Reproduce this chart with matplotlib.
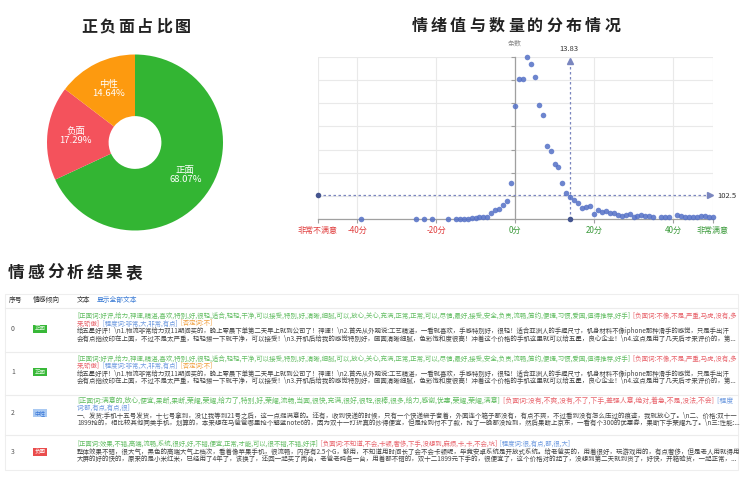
import matplotlib
matplotlib.use('Agg')
import matplotlib.pyplot as plt
import numpy as np
from matplotlib.patches import Rectangle

plt.rcParams['font.family'] = ['Noto Sans CJK SC', 'DejaVu Sans']

# Pie data
pie_labels = ['正面', '负面', '中性']
pie_values = [68.07, 17.29, 14.64]
pie_colors = ['#33b533', '#f4525c', '#fd9a0f']

# Scatter data: emotion score vs count
score = [-39, -25, -23, -21, -17, -15, -14, -13, -12, -11, -10, -9, -8, -7,
         -6, -5, -4, -3, -2, -1, 0, 1, 2, 3, 4, 5, 6, 7, 8, 9, 10, 11, 12,
         13, 14, 15, 16, 17, 18, 19, 20, 21, 22, 23, 24, 25, 26, 27, 28, 29,
         30, 31, 32, 33, 34, 35, 37, 38, 39, 41, 42, 43, 44, 45, 46, 47, 48,
         49, 50]
count = [1, 1, 1, 1, 1, 2, 2, 2, 3, 5, 6, 8, 10, 11, 25, 38, 45, 60, 78,
         155, 488, 605, 603, 700, 667, 611, 491, 447, 316, 294, 237, 224, 155,
         112, 97, 83, 69, 50, 52, 59, 23, 40, 32, 35, 28, 25, 20, 15, 18, 24,
         12, 15, 18, 15, 14, 10, 10, 10, 9, 18, 14, 10, 10, 10, 10, 14, 15,
         12, 9]
mean_score = 13.83
mean_count = 102.5
x_ticks = [-50, -40, -20, 0, 20, 40, 50]
x_tick_labels = ['非常不满意', '-40分', '-20分', '0分', '20分', '40分', '非常满意']

# Table data
GREEN, RED, BLUE, ORANGE, BLACK = '#62bd62', '#e8636b', '#6f9be0', '#f0a040', '#444444'
row_ids = ['0', '1', '2', '3']
row_sentiment = ['正面', '正面', '中性', '负面']
pos0 = ('[正面词:好评,给力,神速,精湛,喜欢,特别,好,很轻,适合,轻轻,干净,可以接受,特别,好,清晰,细腻,'
        '可以,放心,关心,充满,正常,正常,可以,尽情,最好,接受,安全,负责,流畅,简约,便捷,习惯,爱国,值得推荐,好手]')
text0 = [
    ([(pos0, GREEN), ('  [负面词:不像,不是,严重,马虎,没有,多', RED)], True),
    ([('来,骄傲]', RED), ('  [程度词:非常,大,非常,有点]', BLUE), ('  [否定词:不]', ORANGE)], False),
    ([('给五星好评！\\n1.物流非常给力双11期间买的，晚上零晨下单第二天早上就到公司了！神速！\\n2.首先从外观说:工艺精湛，'
       '一看就喜欢，手感特别好，很轻！适合亚洲人的手握尺寸，机身材料不像iphone那种滑手的感觉，只是手出汗', BLACK)], True),
    ([('会有点指纹印在上面，不过不是太严重，轻轻擦一下就干净，可以接受！\\n3.开机后给我的感觉特别好，画面清晰细腻，'
       '色彩饱和度很高！冲着这个价格的手机这里就可以给五星，良心企业！\\n4.这点是用了几天后才来评价的，第...', BLACK)], True),
]
text2 = [
    ([('[正面词:满意的,放心,便宜,果断,果断,荣耀,荣耀,给力了,特别,好,荣耀,流畅,当面,很快,充满,很好,很轻,很棒,'
       '很多,给力,感谢,优惠,荣耀,荣耀,满意]', GREEN),
      ('  [负面词:没有,不爽,没有,不了,下手,差强人意,绝对,着急,不是,没法,不会]', RED), ('  [程度', BLUE)], True),
    ([('词:都,有点,有点,很]', BLUE)], False),
    ([('一、发货:手机十五号发货，十七号拿到，没让我等到21号之后，这一点挺满意的。还有，收到快递的时候，只有一个快递袋子套着，'
       '外面连个箱子都没有，有点不爽，不过看到没有怎么压过的痕迹，我就放心了。\\n二、价格:双十一', BLACK)], True),
    ([('1899抢的，相比较其他同类手机，划算的，本来想在马爸爸哪里抢个魅蓝note6的，因为双十一打折真的炒得便宜，'
       '但是抢到付不了款，抢了一晚都没抢到，然后果断上京东，一看有个300的优惠券，果断下手荣耀九了。\\n三:性能:...', BLACK)], True),
]
text3 = [
    ([('[正面词:效果,不错,高端,流畅,系统,很好,好,不错,便宜,正常,才能,可以,很不错,不错,好评]', GREEN),
      ('  [负面词:不知道,不会,卡顿,奢侈,下手,没想到,麻烦,卡,卡,不会,坑]', RED),
      ('  [程度词:很,有点,都,很,大]', BLUE)], False),
    ([('整体效果不错，很大气，黑色的高端大气上档次，看着像苹果手机，很流畅，内存有2.5个G，够用，不知道用时间长了会不会卡顿呢，'
       '毕竟安卓系统是开放式系统。给老爸买的，用着很好，玩游戏用的，有点奢侈，但是老人用就得用', BLACK)], True),
    ([('大屏的好的快的，原来的是小米红米，已经用了4年了，该换了，还回一起买了两台，老爸老妈各一台，用着都不错的，'
       '双十二1899元下手的，很便宜了，这个价格对的起了，没想到第二天就到货了，好快，开箱验货，一起正常，...', BLACK)], True),
]
row_texts = [text0, text0, text2, text3]

W, H = 750, 484
fig = plt.figure(figsize=(W / 100, H / 100), dpi=100)
renderer = fig.canvas.get_renderer()


def fx(px):
    return px / W


def fy(py):
    return 1 - py / H


def spaced_title(cx, cy, s, pitch, fs=11.5):
    n = len(s)
    for i, ch in enumerate(s):
        fig.text(fx(cx + (i - (n - 1) / 2) * pitch), fy(cy), ch, fontsize=fs,
                 fontweight='bold', color='#222222', ha='center', va='center')


# ---- Donut chart ----
spaced_title(136, 27, '正负面占比图', 18.7)
r_px = 88
ax1 = fig.add_axes([fx(135 - r_px), fy(142.5 + r_px), 2 * r_px / W, 2 * r_px / H])
ax1.pie(pie_values, colors=pie_colors, startangle=90, counterclock=False,
        radius=1, wedgeprops=dict(width=0.7, linewidth=0))
ax1.set_xlim(-1, 1)
ax1.set_ylim(-1, 1)
cum = 0
for lab, val in zip(pie_labels, pie_values):
    mid = np.deg2rad(90 - (cum + val / 2) * 3.6)
    cum += val
    ax1.text(0.68 * np.cos(mid), 0.68 * np.sin(mid), f'{lab}\n{val:.2f}%',
             color='white', fontsize=6.8, ha='center', va='center', linespacing=1.0)

# ---- Scatter chart ----
spaced_title(516, 26, '情绪值与数量的分布情况', 19.3)
ax2 = fig.add_axes([fx(317.5), fy(219.3), (712.5 - 317.5) / W, (219.3 - 56.7) / H])
ax2.set_xlim(-50, 50)
ax2.set_ylim(0, 700)
ax2.set_xticks(x_ticks)
ax2.set_xticklabels(x_tick_labels)
ax2.set_yticks(range(0, 701, 100))
ax2.set_yticklabels([])
ax2.grid(True, color='#e9e9e9', lw=0.8)
ax2.set_axisbelow(True)
for side in ['top', 'right']:
    ax2.spines[side].set_visible(False)
ax2.spines['left'].set_position(('data', 0))
for side in ['left', 'bottom']:
    ax2.spines[side].set_color('#a0a0a0')
    ax2.spines[side].set_linewidth(0.9)
ax2.tick_params(axis='both', length=3, width=0.8, color='#a0a0a0', direction='out')
ax2.tick_params(axis='x', labelsize=5.8, pad=2)
for lbl, v in zip(ax2.get_xticklabels(), x_ticks):
    lbl.set_color('#e03c3c' if v < 0 else '#3a9a3a')

ax2.scatter(score, count, s=16, color='#5470c6', alpha=0.85, linewidths=0,
            zorder=4, clip_on=False)

line_col = '#7a86bf'
ax2.plot([-50, 49], [mean_count, mean_count], ls=(0, (2, 2)), lw=0.9,
         color=line_col, clip_on=False, zorder=3)
ax2.plot([49.3], [mean_count], marker='>', ms=5, color=line_col, clip_on=False, zorder=3)
ax2.plot([mean_score, mean_score], [0, 680], ls=(0, (2, 2)), lw=0.9,
         color=line_col, clip_on=False, zorder=3)
ax2.plot([mean_score], [683], marker='^', ms=5, color=line_col, clip_on=False, zorder=3)
ax2.scatter([-50, mean_score], [mean_count, 0], s=16, color='#45558f',
            linewidths=0, zorder=5, clip_on=False)
fig.text(fx(569), fy(49), f'{mean_score:.2f}', fontsize=5.5, color='#333333',
         ha='center', va='center')
fig.text(fx(717), fy(196), f'{mean_count}', fontsize=5.5, color='#333333',
         ha='left', va='center')
fig.text(fx(515), fy(44), '条数', fontsize=5, color='#888888', ha='center', va='center')

# ---- Table ----
spaced_title(75, 273, '情感分析结果表', 19.7, fs=12)
fig.add_artist(Rectangle((fx(5), fy(470)), 733 / W, 176 / H, transform=fig.transFigure,
                         facecolor='none', edgecolor='#eeeeee', lw=0.8))
for sep in [308, 352, 395, 435]:
    fig.add_artist(plt.Line2D([fx(5), fx(738)], [fy(sep), fy(sep)],
                              transform=fig.transFigure, color='#ececec', lw=0.8))

FS = 4.6
for txt, px in [('序号', 9), ('情感倾向', 33), ('文本', 77)]:
    fig.text(fx(px), fy(300), txt, fontsize=FS + 0.3, color='#333333', va='center')
fig.text(fx(97), fy(300), '显示全部文本', fontsize=FS + 0.3, color='#3a7bd5', va='center')

badge_style = {'正面': ('#38b838', '#d8f5d8'), '中性': ('#a9c9f2', '#3b78d8'),
               '负面': ('#ea4c4c', '#ffffff')}


def draw_line(py, parts, fit, x0=77, right=735):
    fs = FS
    if fit:
        tmp = [fig.text(0, 0, s, fontsize=FS) for s, c in parts]
        total = sum(t.get_window_extent(renderer).width for t in tmp)
        for t in tmp:
            t.remove()
        fs = FS * (right - x0) / total
    x = x0
    for s, c in parts:
        t = fig.text(fx(x), fy(py), s, fontsize=fs, color=c, ha='left', va='center')
        x += t.get_window_extent(renderer).width


row_line_y = [[316, 323.5, 331, 338.5], [358.5, 366, 373.5, 381],
              [400.5, 408, 415.5, 423], [444, 451.5, 459]]
row_mid_y = [329, 372, 413, 451.5]
for rid, sent, lines, ys, my in zip(row_ids, row_sentiment, row_texts, row_line_y, row_mid_y):
    fig.text(fx(11), fy(my), rid, fontsize=FS + 0.3, color='#555555', va='center')
    bg, fg = badge_style[sent]
    fig.add_artist(Rectangle((fx(33), fy(my + 4)), 14 / W, 8 / H,
                             transform=fig.transFigure, facecolor=bg, edgecolor='none'))
    fig.text(fx(40), fy(my), sent, fontsize=4, color=fg, ha='center', va='center')
    for (parts, fit), py in zip(lines, ys):
        draw_line(py, parts, fit)

fig.savefig('out.png', dpi=100)
